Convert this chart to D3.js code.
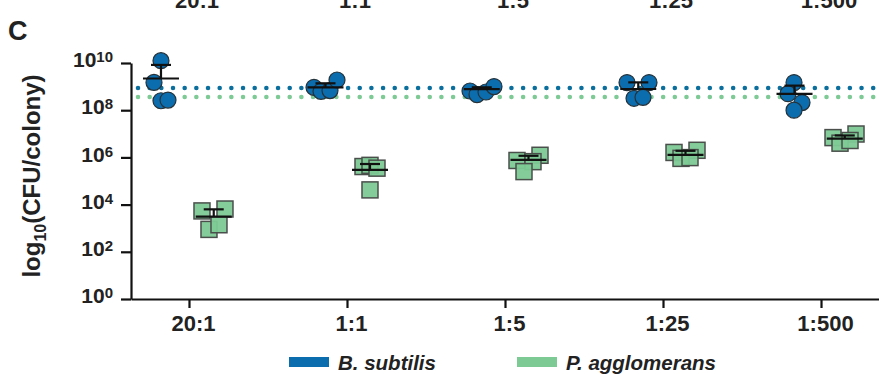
<!DOCTYPE html>
<html>
<head>
<meta charset="utf-8">
<script src="https://cdn.jsdelivr.net/npm/d3@7"></script>
<style>
  body { margin: 0; background: #fff; }
  svg { display: block; font-family: "Liberation Sans", Arial, sans-serif; font-weight: bold; }
</style>
</head>
<body>
<div id="chart"></div>
<script>
// ratio groups on the x axis
const ratios = ["20:1", "1:1", "1:5", "1:25", "1:500"];
const yTickExps = [0, 2, 4, 6, 8, 10];

// B. subtilis CFU per colony, 4 colonies per ratio
const bsubValues = [
  [1.26e10, 1.51e9, 2.51e8, 2.69e8],
  [9.3e8, 6.3e8, 6.8e8, 1.9e9],
  [6.5e8, 4.6e8, 5.9e8, 1.0e9],
  [1.48e9, 1.48e9, 3.2e8, 3.5e8],
  [1.48e9, 5.0e8, 2.1e8, 1.0e8]
];
const bsubMean = [2.2e9, 9.3e8, 7.8e8, 7.9e8, 4.9e8];
const bsubSem = [6.1e9, 4.5e8, 1.5e8, 7.2e8, 6.1e8];

// P. agglomerans CFU per colony
const paggValues = [
  [5.4e3, 6.5e3, 8.9e2, 1.4e3],
  [4.1e5, 4.6e5, 3.5e5, 4.2e4],
  [7.4e5, 1.23e6, 6.6e5, 2.5e5],
  [1.62e6, 2.0e6, 9.1e5, 9.8e5],
  [6.9e6, 9.8e6, 4.0e6, 5.2e6]
];
const paggMean = [3.1e3, 2.95e5, 7.8e5, 1.29e6, 6.2e6];
const paggSem = [3.2e3, 2.3e5, 3.9e5, 6.1e5, 2.3e6];

// monoculture reference levels (dotted lines)
const bsubRef = 8.7e8;
const paggRef = 3.6e8;

//Layout
const margin = {top: 63, right: 0, bottom: 75, left: 131};
const width = 879 - margin.left - margin.right;
const height = 374 - margin.top - margin.bottom;

// horizontal scatter of the points around each tick (px)
const bsubJitter = [[-28, -35, -28, -21], [-33, -26, -17, -10], [-35, -28, -19, -11], [-36, -14, -29, -20], [-27, -33, -19, -27]];
const paggJitter = [[13, 36, 20, 30], [16, 23, 30, 23], [12, 35, 28, 19], [11, 34, 18, 27], [12, 35, 19, 29]];

const blue = "#0b6cae";
const green = "#7dca95";

const svgRoot = d3.select("#chart").append("svg")
  .attr("width", 879)
  .attr("height", 374);

const svg = svgRoot.append("g")
  .attr("transform", "translate(" + margin.left + "," + margin.top + ")");

const x = d3.scalePoint().domain(ratios).range([0, width]).padding(0.367);
const y = d3.scaleLog().domain([1, 1e10]).range([height, 0]);

// cut-off labels of the panel above (clipped in the original figure too)
svgRoot.selectAll("text.above")
  .data(ratios)
  .join("text")
  .attr("class", "above")
  .attr("x", d => margin.left + x(d) + 8)
  .attr("y", 8)
  .attr("text-anchor", "middle")
  .style("font-size", "22px")
  .attr("fill", "#222")
  .text(d => d);

// panel letter
svgRoot.append("text")
  .attr("x", 8)
  .attr("y", 40)
  .style("font-size", "27px")
  .attr("fill", "#222")
  .text("C");

// reference lines
[[bsubRef, "#0b6f9e"], [paggRef, green]].forEach(([v, c]) => {
  svg.append("line")
    .attr("x1", 7).attr("x2", width)
    .attr("y1", y(v)).attr("y2", y(v))
    .attr("stroke", c)
    .attr("stroke-width", 4.6)
    .attr("stroke-linecap", "round")
    .attr("stroke-dasharray", "0 11.67");
});

// axes
const xAxis = svg.append("g")
  .attr("transform", "translate(0," + height + ")")
  .call(d3.axisBottom(x).tickSize(9).tickSizeOuter(0).tickPadding(7));
xAxis.selectAll("text")
  .attr("dx", 4)
  .style("font-size", "22px")
  .style("font-family", "inherit")
  .attr("fill", "#222");

const yAxis = svg.append("g")
  .call(d3.axisLeft(y).tickValues(yTickExps.map(e => Math.pow(10, e))).tickSize(10).tickSizeOuter(0).tickPadding(8).tickFormat(""));
yAxis.selectAll(".tick text")
  .data(yTickExps)
  .attr("dy", "0.36em")
  .attr("fill", "#222")
  .style("font-family", "inherit")
  .each(function (e) {
    const t = d3.select(this);
    t.append("tspan").style("font-size", "21px").text("10");
    t.append("tspan").style("font-size", "15px").attr("dy", -5).text(e);
  });

svg.selectAll(".domain, .tick line")
  .attr("stroke", "#111")
  .attr("stroke-width", 2.2);

// y axis title
svgRoot.append("text")
  .attr("transform", "translate(40,176) rotate(-90)")
  .attr("text-anchor", "middle")
  .attr("fill", "#222")
  .style("font-size", "24px")
  .call(t => {
    t.append("tspan").text("log");
    t.append("tspan").style("font-size", "16px").attr("dy", 6).text("10");
    t.append("tspan").attr("dy", -6).text("(CFU/colony)");
  });

// points
const flat = (vals, jit) => vals.flatMap((arr, i) => arr.map((v, j) => ({g: ratios[i], v: v, dx: jit[i][j]})));

svg.selectAll("circle.bsub")
  .data(flat(bsubValues, bsubJitter))
  .join("circle")
  .attr("class", "bsub")
  .attr("cx", d => x(d.g) + d.dx)
  .attr("cy", d => y(d.v))
  .attr("r", 8)
  .attr("fill", blue)
  .attr("stroke", "#263238")
  .attr("stroke-width", 1.2);

svg.selectAll("rect.pagg")
  .data(flat(paggValues, paggJitter))
  .join("rect")
  .attr("class", "pagg")
  .attr("x", d => x(d.g) + d.dx - 8)
  .attr("y", d => y(d.v) - 8)
  .attr("width", 16)
  .attr("height", 16)
  .attr("fill", green)
  .attr("fill-opacity", 0.95)
  .attr("stroke", "#4a4f4c")
  .attr("stroke-width", 1.5);

// mean + SEM (upper) bars
const stats = (means, sems, jit) => means.map((m, i) => ({g: ratios[i], m: m, top: m + sems[i], cx: d3.mean(jit[i])}));

[stats(bsubMean, bsubSem, bsubJitter), stats(paggMean, paggSem, paggJitter)].forEach(st => {
  const gg = svg.append("g").attr("stroke", "#111").attr("stroke-width", 2.2);
  st.forEach(d => {
    const cx = x(d.g) + d.cx;
    gg.append("line").attr("x1", cx).attr("x2", cx).attr("y1", y(d.m)).attr("y2", y(d.top));
    gg.append("line").attr("x1", cx - 10).attr("x2", cx + 10).attr("y1", y(d.top)).attr("y2", y(d.top));
    gg.append("line").attr("x1", cx - 18).attr("x2", cx + 18).attr("y1", y(d.m)).attr("y2", y(d.m));
  });
});

// legend
const legend = [["B. subtilis", blue, 289], ["P. agglomerans", green, 517]];
legend.forEach(([name, c, lx]) => {
  svgRoot.append("rect")
    .attr("x", lx).attr("y", 357)
    .attr("width", 40).attr("height", 10)
    .attr("fill", c);
  svgRoot.append("text")
    .attr("x", lx + 49).attr("y", 370)
    .style("font-size", "20.5px")
    .style("font-style", "italic")
    .attr("fill", "#222")
    .text(name);
});
</script>
</body>
</html>
